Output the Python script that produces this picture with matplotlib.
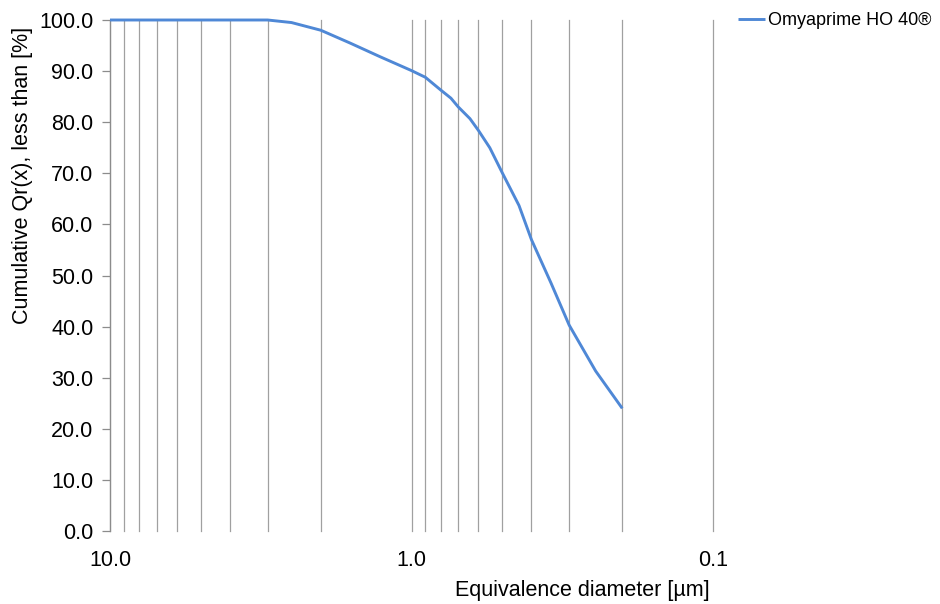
import matplotlib

matplotlib.use("Agg")
import matplotlib.pyplot as plt
from matplotlib.ticker import FixedLocator, FormatStrFormatter, LogLocator, NullFormatter

plt.rcParams["font.family"] = ["Liberation Sans", "DejaVu Sans"]

# Particle size distribution
diameter_um = [10.0, 9.0, 8.0, 7.0, 6.0, 5.0, 4.0, 3.0, 2.5, 2.0, 1.6, 1.27, 1.0,
               0.93, 0.9, 0.8, 0.74, 0.7, 0.64, 0.6, 0.55, 0.5, 0.44, 0.4, 0.345,
               0.3, 0.245, 0.2]
cumulative_pct = [100.0, 100.0, 100.0, 100.0, 100.0, 100.0, 100.0, 100.0, 99.5, 98.0,
                  95.5, 92.8, 90.1, 89.2, 88.8, 86.3, 84.7, 83.0, 80.7, 78.4, 75.0,
                  70.1, 63.7, 57.0, 48.6, 40.3, 31.3, 24.0]
series_name = "Omyaprime HO 40®"
y_ticks = [0, 10, 20, 30, 40, 50, 60, 70, 80, 90, 100]

LINE_BLUE = "#4F88D6"
GRID_GREY = "#A0A0A0"
AXIS_GREY = "#8C8C8C"

fig = plt.figure(figsize=(9.4, 6.04), dpi=100)
ax = fig.add_axes([110 / 940, 73 / 604, 603 / 940, 511 / 604])

ax.plot(diameter_um, cumulative_pct, color=LINE_BLUE, lw=2.1, label=series_name,
        clip_on=False, solid_joinstyle="round", solid_capstyle="butt", zorder=3)

ax.set_xscale("log")
ax.set_xlim(10, 0.1)
ax.set_ylim(0, 100)

ax.xaxis.set_major_locator(LogLocator(base=10))
ax.xaxis.set_minor_locator(LogLocator(base=10, subs=[2, 3, 4, 5, 6, 7, 8, 9]))
ax.xaxis.set_major_formatter(FormatStrFormatter("%.1f"))
ax.xaxis.set_minor_formatter(NullFormatter())
ax.grid(True, axis="x", which="both", color=GRID_GREY, lw=0.9)
ax.tick_params(axis="x", which="both", length=0, pad=14, labelsize=15.5)

ax.yaxis.set_major_locator(FixedLocator(y_ticks))
ax.yaxis.set_major_formatter(FormatStrFormatter("%.1f"))
ax.tick_params(axis="y", direction="out", length=6, color=AXIS_GREY, width=0.9,
               labelsize=15.5, pad=6)

for side in ("top", "right", "bottom"):
    ax.spines[side].set_visible(False)
ax.spines["left"].set_color(AXIS_GREY)
ax.spines["left"].set_linewidth(0.9)

ax.set_xlabel("Equivalence diameter [µm]", fontsize=15.5)
ax.xaxis.set_label_coords(0.783, -0.095)
ax.set_ylabel("Cumulative Qr(x), less than [%]", fontsize=15.5)
ax.yaxis.set_label_coords(-0.128, 0.695)

fig.legend(loc="upper left", bbox_to_anchor=(731 / 940, 1.0 - 5 / 604), frameon=False,
           fontsize=13, handlelength=1.5, handletextpad=0.15, borderaxespad=0)

# the gridline at the 0.1 limit sits on the axes edge; keep it whole
fig.canvas.draw()
for tick in ax.xaxis.get_major_ticks() + ax.xaxis.get_minor_ticks():
    tick.gridline.set_clip_on(False)

fig.savefig("out.png", dpi=100)
plt.close(fig)
